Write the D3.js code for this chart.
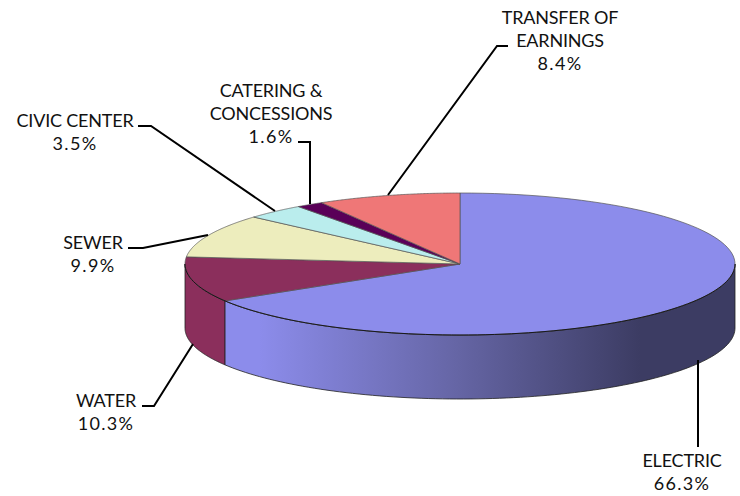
<!DOCTYPE html>
<html><head><meta charset="utf-8">
<style>html,body{margin:0;background:#fff}svg{display:block}text{font-family:Lato,sans-serif;font-size:18px;letter-spacing:-0.2px;fill:#111}tspan.pct{letter-spacing:1.3px}</style>
<script src="https://cdn.jsdelivr.net/npm/d3@7"></script></head><body>
<svg id="c" width="740" height="496"></svg>
<script>
const categories=["ELECTRIC","WATER","SEWER","CIVIC CENTER","CATERING & CONCESSIONS","TRANSFER OF EARNINGS"];
const values=[66.3,10.3,9.9,3.5,1.6,8.4];
const colors=["#8c8ceb","#8b2f5c","#ededbd","#baeded","#5a0058","#ef7777"];
const labelLines=[["ELECTRIC","66.3%"],["WATER","10.3%"],["SEWER","9.9%"],["CIVIC CENTER","3.5%"],["CATERING &","CONCESSIONS","1.6%"],["TRANSFER OF","EARNINGS","8.4%"]];
const labelPos=[[682,467],[106,407],[93,249],[75,127],[271,97],[560,24]];
const leaders=[[[698,360],[698,447]],[[193,344],[154,406],[142,406]],[[208,235],[143,248],[128,248]],[[275,211],[151,126],[138,126]],[[310,204],[310,142],[298,142]],[[388,195],[497,46],[508,46]]];
const cx=460,cy=264,rx=275,ry=71,depth=64;
const svg=d3.select("#c");
const defs=svg.append("defs");
const g=defs.append("linearGradient").attr("id","side").attr("gradientUnits","userSpaceOnUse").attr("x1",226).attr("x2",640).attr("y1",0).attr("y2",0);
[[0,"#8c8ceb"],[0.08,"#8c8ceb"],[0.55,"#6666a6"],[1,"#3c3c63"]].forEach(s=>g.append("stop").attr("offset",s[0]).attr("stop-color",s[1]));
const pie=d3.pie().sort(null)(values);
const pt=(a,dy=0)=>[cx+rx*Math.sin(a),cy-ry*Math.cos(a)+dy];
const line=d3.line();
const samples=(a0,a1,dy)=>d3.range(0,101).map(i=>pt(a0+(a1-a0)*i/100,dy));
const walls=[[1,pie[0].endAngle,Math.PI*1.5],[0,Math.PI/2,pie[0].endAngle]];
walls.forEach(([i,a0,a1])=>{
  const p=samples(a0,a1,0).concat(samples(a1,a0,depth));
  svg.append("path").attr("d",line(p)+"Z").attr("fill",i==0?"url(#side)":colors[1]).attr("stroke","#222").attr("stroke-width",0.8).attr("stroke-linejoin","round");
});
pie.forEach((s,i)=>{
  const p=[[cx,cy]].concat(samples(s.startAngle,s.endAngle,0));
  svg.append("path").attr("d",line(p)+"Z").attr("fill",colors[i]).attr("stroke","#555").attr("stroke-width",0.7).attr("stroke-linejoin","round");
});
svg.append("path").attr("d",line(samples(Math.PI/2,Math.PI*1.5,0))).attr("fill","none").attr("stroke","#111").attr("stroke-width",0.9);
leaders.forEach(l=>svg.append("path").attr("d",line(l)).attr("fill","none").attr("stroke","#000").attr("stroke-width",2));
labelLines.forEach((ls,i)=>{
  const t=svg.append("text").attr("text-anchor","middle").attr("x",labelPos[i][0]).attr("y",labelPos[i][1]);
  ls.forEach((s,j)=>t.append("tspan").attr("class",j==ls.length-1?"pct":null).attr("x",labelPos[i][0]).attr("dy",j?23:0).text(s));
});
</script></body></html>
